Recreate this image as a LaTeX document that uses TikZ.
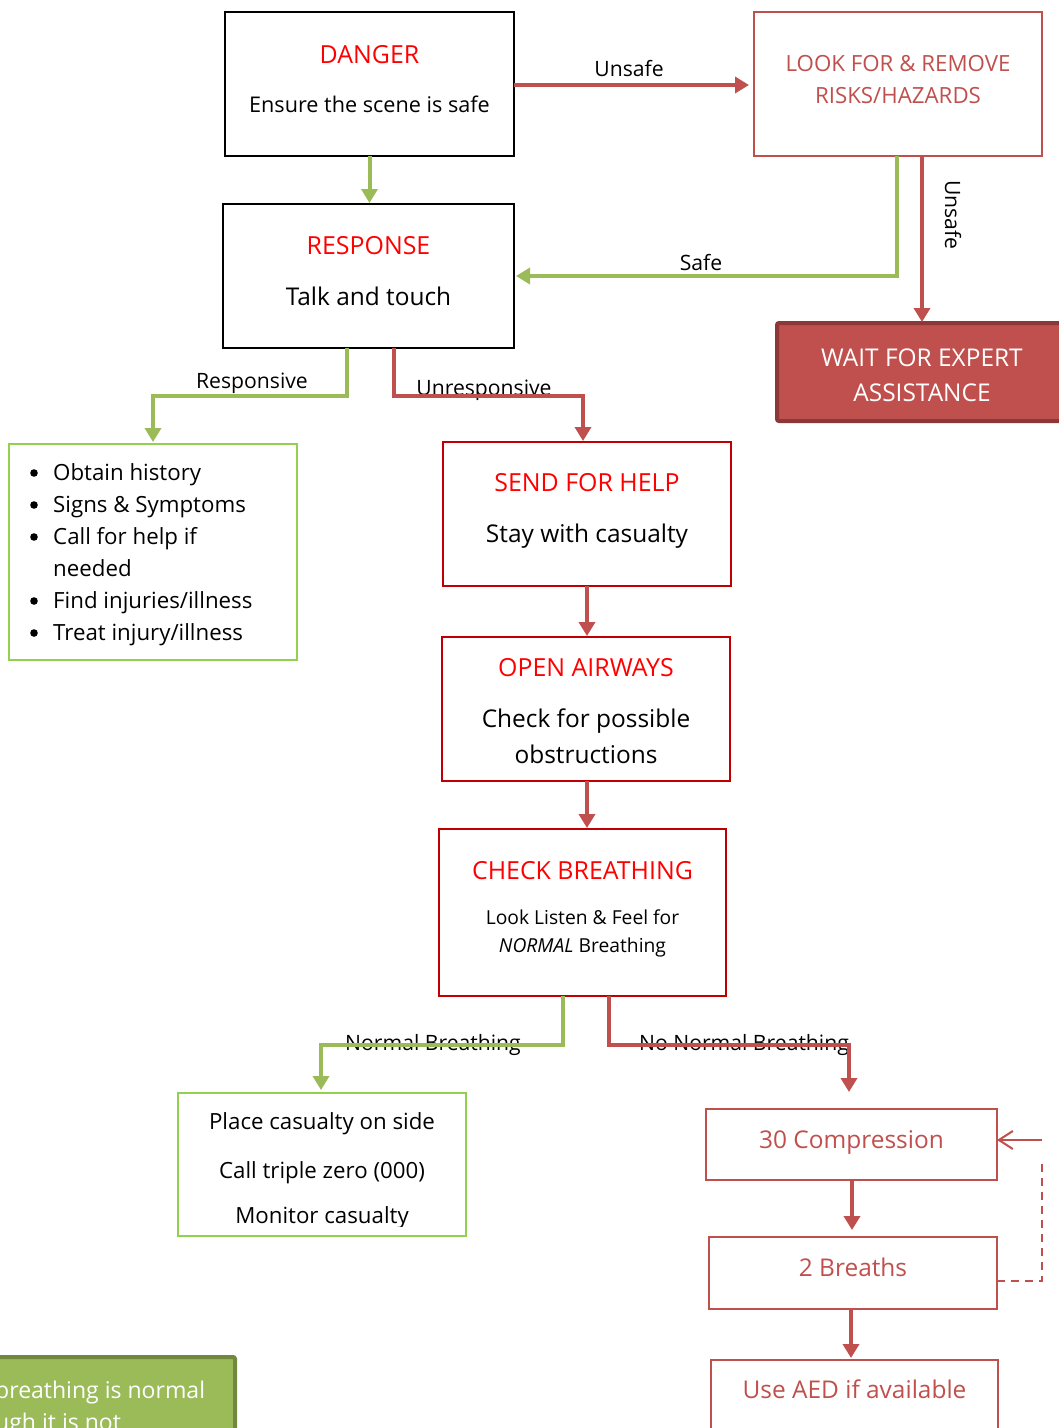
\documentclass[tikz,border=0pt]{standalone}
\usepackage{fontspec}
\setmainfont{Open Sans}[Scale=0.94]
\usetikzlibrary{arrows.meta}
\definecolor{rline}{HTML}{C0504D}
\definecolor{gline}{HTML}{9BBB59}
\definecolor{gbox}{HTML}{92D050}
\definecolor{rbox}{HTML}{C00000}
\definecolor{ttl}{HTML}{FF0000}
\definecolor{wdark}{HTML}{8C3836}
\definecolor{gdark}{HTML}{71893F}
\begin{document}
\begin{tikzpicture}[x=1pt,y=-1pt,
  boxbase/.style={rectangle, inner sep=0pt, outer sep=0pt, line width=1.5pt},
  boxk/.style={boxbase, draw=black},
  boxr/.style={boxbase, draw=rbox},
  boxlr/.style={boxbase, draw=rline},
  boxg/.style={boxbase, draw=gbox},
  txt/.style={inner sep=0pt, anchor=base, font=\fontsize{23}{28}\selectfont},
  mid/.style={txt, font=\fontsize{23.7}{28}\selectfont},
  big/.style={txt, font=\fontsize{26}{30}\selectfont},
  ttlstyle/.style={txt, text=ttl, font=\fontsize{26.5}{30}\selectfont},
  lbl/.style={txt, font=\fontsize{22.5}{27}\selectfont},
  small/.style={txt, font=\fontsize{20.5}{25}\selectfont},
  rarrow/.style={draw=rline, line width=4pt, -{Triangle[width=16pt,length=14pt]}},
  garrow/.style={draw=gline, line width=4pt, -{Triangle[width=16pt,length=14pt]}},
]
\useasboundingbox (0,0) rectangle (1059,1428);
\clip (0,0) rectangle (1059,1428);
\fill[white] (0,0) rectangle (1059,1428);

% ---------- boxes ----------
\node[boxk, minimum width=289pt, minimum height=144pt] (danger) at (369.5,84) {};
\node[boxlr, minimum width=288pt, minimum height=144pt] (look) at (898,84) {};
\node[boxk, minimum width=291pt, minimum height=144pt] (response) at (368.5,276) {};
\node[boxbase, fill=rline, draw=wdark, line width=4pt, rounded corners=2pt,
      minimum width=298pt, minimum height=98pt] (wait) at (926,372) {};
\node[boxg, minimum width=288pt, minimum height=216pt] (list) at (153,552) {};
\node[boxr, minimum width=288pt, minimum height=144pt] (send) at (587,514) {};
\node[boxr, minimum width=288pt, minimum height=144pt] (open) at (586,709) {};
\node[boxr, minimum width=287pt, minimum height=167pt] (check) at (582.5,912.5) {};
\node[boxg, minimum width=288pt, minimum height=143pt] (place) at (322,1164.5) {};
\node[boxlr, minimum width=291pt, minimum height=71pt] (comp) at (851.5,1144.5) {};
\node[boxlr, minimum width=288pt, minimum height=72pt] (breaths) at (853,1273) {};
\node[boxlr, minimum width=287pt, minimum height=90pt] (aed) at (854.5,1405) {};
\node[boxbase, fill=gline, draw=gdark, line width=4pt, rounded corners=2pt,
      minimum width=285pt, minimum height=103pt] (agonal) at (92.5,1408.5) {};

% ---------- box texts ----------
\node[ttlstyle] (dangerT) at (369.5,63) {DANGER};
\node[txt] (dangerB) at (369.5,112) {Ensure the scene is safe};
\node[mid, text=rline] (lookA) at (898,71) {LOOK FOR \& REMOVE};
\node[mid, text=rline] (lookB) at (898,103) {RISKS/HAZARDS};
\node[ttlstyle] (responseT) at (368.5,254) {RESPONSE};
\node[big] (responseB) at (368.5,305) {Talk and touch};
\node[big, text=white] (waitA) at (922,366) {WAIT FOR EXPERT};
\node[big, text=white] (waitB) at (922,401) {ASSISTANCE};

\foreach \yb/\yt/\t [count=\i] in {473/480/{Obtain history}, 505/512/{Signs \& Symptoms},
    537/544/{Call for help if}, 601/608/{Find injuries/illness}, 633/640/{Treat injury/illness}}{
  \fill (34,\yb) circle (3.8pt);
  \node[mid, anchor=base west] (item\i) at (53,\yt) {\t};
}
\node[mid, anchor=base west] (item6) at (53,576) {needed};

\node[ttlstyle] (sendT) at (587,491) {SEND FOR HELP};
\node[big] (sendB) at (587,542) {Stay with casualty};
\node[ttlstyle] (openT) at (586,676) {OPEN AIRWAYS};
\node[big] (openB) at (586,727) {Check for possible};
\node[big] (openC) at (586,763) {obstructions};
\node[ttlstyle] (checkT) at (582.5,879) {CHECK BREATHING};
\node[small] (checkB) at (582.5,924) {Look Listen \& Feel for};
\node[small] (checkC) at (582.5,952) {\textit{NORMAL} Breathing};

\begin{scope}
\clip (178,1093) rectangle (466,1226);
\node[mid] (placeA) at (322,1129) {Place casualty on side};
\node[mid] (placeB) at (322,1178) {Call triple zero (000)};
\node[mid] (placeC) at (322,1223) {Monitor casualty};
\end{scope}

\node[big, text=rline] (compT) at (851.5,1148) {30 Compression};
\node[big, text=rline] (breathsT) at (853,1276) {2 Breaths};
\node[big, text=rline] (aedT) at (854.5,1398) {Use AED if available};
\node[mid, text=white, anchor=base west, font=\fontsize{24.5}{29}\selectfont] (agA) at (-5,1398) {breathing is normal};
\node[mid, text=white, anchor=base west, font=\fontsize{24.5}{29}\selectfont] (agB) at (-5,1430) {ugh it is not};

% ---------- connector labels ----------
\node[lbl] (l1) at (629,76) {Unsafe};
\node[lbl] (l2) at (701,270) {Safe};
\node[lbl, anchor=center, rotate=-90] (l3) at (953,215) {Unsafe};
\node[lbl] (l4) at (252,388) {Responsive};
\node[lbl] (l5) at (484,395) {Unresponsive};
\node[lbl] (l6) at (433,1050) {Normal Breathing};
\node[lbl] (l7) at (744,1050) {No Normal Breathing};

% ---------- connectors ----------
\draw[rarrow, shorten >=5pt] ([yshift=-1pt]danger.east) -- ([yshift=-1pt]look.west);
\draw[garrow, shorten >=1pt] (danger.south) -- (danger.south |- response.north);
\draw[garrow, shorten >=2pt] ([xshift=-1pt]look.south) |- (response.east);
\draw[rarrow, shorten >=1pt] ([xshift=24pt]look.south) -- ([xshift=24pt]look.south |- wait.north);
\draw[garrow, shorten >=2pt] ([xshift=-22pt]response.south) -- ++(0,48) -| (list.north);
\draw[rarrow, shorten >=1pt] ([xshift=25pt]response.south) -- ++(0,48) -| ([xshift=-4pt]send.north);
\draw[rarrow, shorten >=1pt] (send.south) -- (send.south |- open.north);
\draw[rarrow, shorten >=1pt] ([xshift=1pt]open.south) -- ([xshift=1pt]open.south |- check.north);
\draw[garrow, shorten >=3pt] ([xshift=-19.5pt]check.south) -- ++(0,49) -| ([xshift=-1pt]place.north);
\draw[rarrow, shorten >=17pt] ([xshift=26.5pt]check.south) -- ++(0,49) -| ([xshift=-2.5pt]comp.north);
\draw[rarrow, shorten >=7pt] ([xshift=0.5pt]comp.south) -- ([xshift=0.5pt]comp.south |- breaths.north);
\draw[rarrow, shorten >=2pt] ([xshift=-2pt]breaths.south) -- ([xshift=-2pt]breaths.south |- aed.north);

% ---------- repeat loop ----------
\coordinate (loopA) at (1042,1160);
\coordinate (loopB) at (1042,1140);
\draw[draw=rline, line width=2pt, dash pattern=on 8pt off 6pt] ([yshift=-8pt]breaths.east) -| (loopA);
\draw[draw=rline, line width=2pt, -{Straight Barb[length=14pt,width=18pt,line width=2pt]}] (loopB) -- (comp.east |- loopB);
\end{tikzpicture}
\end{document}
